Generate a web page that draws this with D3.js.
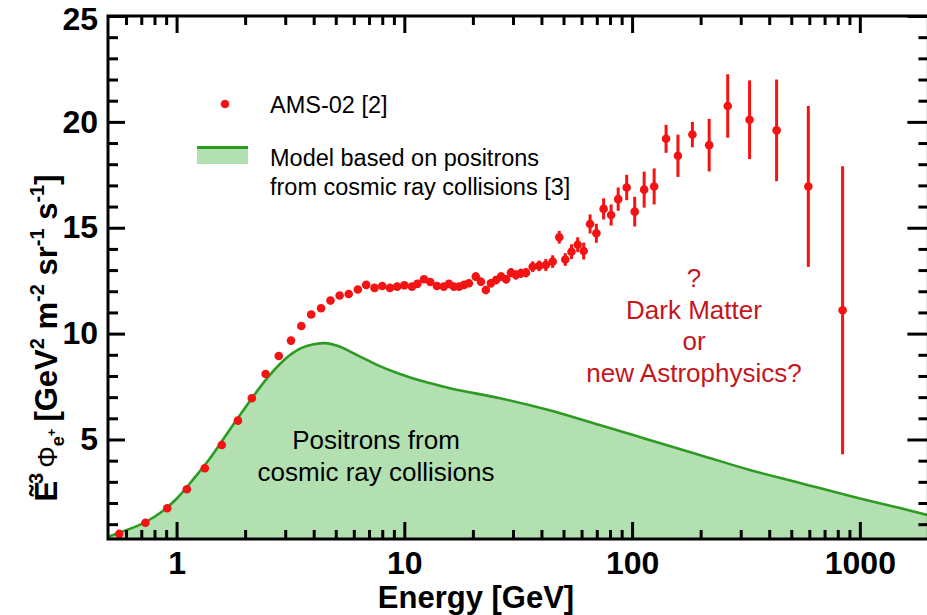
<!DOCTYPE html>
<html><head><meta charset="utf-8">
<script src="https://cdn.jsdelivr.net/npm/d3@7"></script>
<style>
html,body{margin:0;padding:0;background:#fff;}
svg{display:block;}
text{font-family:"Liberation Sans",Arial,Helvetica,sans-serif;}
</style></head>
<body>
<svg id="chart" width="927" height="615"></svg>
<script>
// ---- data ----
const amsEnergy = [0.56,0.73,0.91,1.11,1.33,1.58,1.86,2.14,2.46,2.81,3.18,3.53,3.9,4.31,4.74,5.2,5.7,6.25,6.8,7.4,8.0,8.65,9.3,10.0,10.8,11.4,12.2,13.0,13.9,14.9,15.7,16.5,17.4,18.3,19.2,20.6,21.7,22.8,24.0,25.3,26.6,28,29.4,30.9,32.5,34.2,36.6,39.1,41.8,44.8,47.9,50.9,54.2,57.7,61.3,65.4,69.7,75.0,80.9,86.9,94.7,102.7,113,125,141,159,184,218,263,328,431,594,840];
const amsFlux = [0.54,1.07,1.75,2.65,3.64,4.74,5.89,6.95,8.09,8.94,9.67,10.36,10.9,11.2,11.56,11.8,11.87,12.08,12.3,12.16,12.25,12.16,12.22,12.28,12.22,12.35,12.57,12.44,12.25,12.22,12.35,12.22,12.22,12.3,12.38,12.69,12.45,12.06,12.38,12.53,12.69,12.57,12.88,12.77,12.85,12.88,13.16,13.2,13.24,13.4,14.55,13.5,13.87,14.2,13.9,15.18,14.74,15.89,15.6,16.35,16.9,15.76,16.8,16.95,19.2,18.4,19.4,18.9,20.75,20.1,19.6,16.95,11.1];
const amsError = [0,0,0,0,0,0,0,0,0,0,0,0,0,0,0,0,0.05,0.05,0.05,0.12,0.12,0.12,0.12,0.12,0.12,0.12,0.12,0.12,0.12,0.12,0.12,0.12,0.12,0.15,0.15,0.2,0.2,0.2,0.2,0.2,0.2,0.2,0.22,0.22,0.22,0.22,0.25,0.25,0.28,0.3,0.3,0.3,0.35,0.35,0.4,0.45,0.45,0.5,0.5,0.55,0.6,0.7,0.85,0.85,0.66,1.0,0.6,1.24,1.5,1.86,2.4,3.8,6.8];

const modelEnergy = [0.5,0.56,0.7,0.8,0.9,1.0,1.2,1.4,1.6,1.8,2.0,2.5,3.0,3.5,4.0,4.5,5.0,6.3,7.5,9.5,15.7,26,43,72,119,198,329,546,906,1500,2000];
const modelFlux = [0.4,0.6,1.0,1.35,1.75,2.2,3.2,4.1,5.0,5.8,6.5,7.9,8.8,9.3,9.5,9.55,9.45,8.95,8.55,8.1,7.43,6.96,6.39,5.68,4.98,4.27,3.56,2.95,2.33,1.76,1.42];

const xMajorTicks = [1,10,100,1000];
const xTickLabels = ["1","10","100","1000"];
const xMinorTicks = [0.6,0.7,0.8,0.9,2,3,4,5,6,7,8,9,20,30,40,50,60,70,80,90,200,300,400,500,600,700,800,900];
const yMajorTicks = [5,10,15,20,25];
const yTickLabels = ["5","10","15","20","25"];
const yMinorTicks = [1,2,3,4,6,7,8,9,11,12,13,14,16,17,18,19,21,22,23,24];

const legendLabels = ["AMS-02 [2]", "Model based on positrons", "from cosmic ray collisions [3]"];
const innerLabel = ["Positrons from", "cosmic ray collisions"];
const questionLabel = ["?", "Dark Matter", "or", "new Astrophysics?"];

// ---- layout ----
const svg = d3.select("#chart");
const L = 108, R = 928.4, T = 16, B = 539;
const x = d3.scaleLog().domain([0.5, 2000]).range([L, R]);
const y = d3.scaleLinear().domain([0.3, 25]).range([B, T]);

const red = "#f41313", green = "#2d9a23", fillGreen = "#b3e0b1", darkRed = "#c4161c";

svg.append("defs").append("clipPath").attr("id","clip")
  .append("rect").attr("x",L).attr("y",T).attr("width",R-L).attr("height",B-T);

const plot = svg.append("g").attr("clip-path","url(#clip)");

// model area
const pts = modelEnergy.map((e,i)=>[e, modelFlux[i]]);
plot.append("path").datum(pts)
  .attr("fill", fillGreen)
  .attr("d", d3.area().x(d=>x(d[0])).y0(B).y1(d=>y(d[1])).curve(d3.curveMonotoneX));
plot.append("path").datum(pts)
  .attr("fill","none").attr("stroke",green).attr("stroke-width",2.6)
  .attr("d", d3.line().x(d=>x(d[0])).y(d=>y(d[1])).curve(d3.curveMonotoneX));

// AMS points
const ams = amsEnergy.map((e,i)=>({e, v:amsFlux[i], err:amsError[i]}));
plot.append("g").selectAll("line").data(ams.filter(d=>d.err>0)).join("line")
  .attr("x1",d=>x(d.e)).attr("x2",d=>x(d.e))
  .attr("y1",d=>y(d.v-d.err)).attr("y2",d=>y(d.v+d.err))
  .attr("stroke",red).attr("stroke-width",3);
plot.append("g").selectAll("circle").data(ams).join("circle")
  .attr("cx",d=>x(d.e)).attr("cy",d=>y(d.v)).attr("r",4.3).attr("fill",red);

// axes
const tickFont = g => g.selectAll("text").attr("font-size",32).attr("font-weight","bold").attr("fill","#000").style("font-family","'Liberation Sans',Arial,sans-serif");
const clean = g => { g.select(".domain").remove(); g.selectAll("line").attr("stroke","#000").attr("stroke-width",3); };

// bottom
svg.append("g").attr("transform",`translate(0,${B})`)
  .call(d3.axisBottom(x).tickValues(xMinorTicks).tickSize(-9).tickFormat(""))
  .call(clean);
svg.append("g").attr("transform",`translate(0,${B})`)
  .call(d3.axisBottom(x).tickValues(xMajorTicks).tickSize(-17).tickPadding(12)
    .tickFormat((d,i)=>xTickLabels[i]))
  .call(clean).call(tickFont);
// top
svg.append("g").attr("transform",`translate(0,${T})`)
  .call(d3.axisTop(x).tickValues(xMinorTicks).tickSize(-9).tickFormat("")).call(clean);
svg.append("g").attr("transform",`translate(0,${T})`)
  .call(d3.axisTop(x).tickValues(xMajorTicks).tickSize(-17).tickFormat("")).call(clean);
// left
svg.append("g").attr("transform",`translate(${L},0)`)
  .call(d3.axisLeft(y).tickValues(yMinorTicks).tickSize(-10).tickFormat("")).call(clean);
const yl = svg.append("g").attr("transform",`translate(${L},0)`)
  .call(d3.axisLeft(y).tickValues(yMajorTicks).tickSize(-17).tickPadding(10)
    .tickFormat((d,i)=>yTickLabels[i]))
  .call(clean).call(tickFont);
yl.selectAll(".tick text").filter(d=>d===25).attr("dy","0.42em");
// right
svg.append("g").attr("transform",`translate(${R},0)`)
  .call(d3.axisRight(y).tickValues(yMinorTicks).tickSize(-10).tickFormat("")).call(clean);
svg.append("g").attr("transform",`translate(${R},0)`)
  .call(d3.axisRight(y).tickValues(yMajorTicks).tickSize(-21).tickFormat("")).call(clean);

// frame
svg.append("rect").attr("x",L).attr("y",T).attr("width",R-L).attr("height",B-T)
  .attr("fill","none").attr("stroke","#000").attr("stroke-width",3);

// x axis title
svg.append("text").attr("x",476).attr("y",608).attr("text-anchor","middle")
  .attr("font-size",31).attr("font-weight","bold").text("Energy [GeV]");

// y axis title
const yt = svg.append("text").attr("transform","translate(57,338) rotate(-90)")
  .attr("text-anchor","middle").attr("font-size",31).attr("font-weight","bold");
yt.append("tspan").text("Ẽ");
yt.append("tspan").attr("font-size",20).attr("dy",-14).attr("dx",-3).text("3");
yt.append("tspan").attr("font-size",27).attr("font-weight","normal").attr("dy",14).attr("dx",5).text("Φ");
yt.append("tspan").attr("font-size",18).attr("dy",7).text("e");
yt.append("tspan").attr("font-size",13).attr("dy",-8).text("+");
yt.append("tspan").attr("dy",1).attr("dx",7).text("[GeV");
yt.append("tspan").attr("font-size",20).attr("dy",-13).text("2");
yt.append("tspan").attr("dy",13).text(" m");
yt.append("tspan").attr("font-size",20).attr("dy",-13).text("-2");
yt.append("tspan").attr("dy",13).text(" sr");
yt.append("tspan").attr("font-size",20).attr("dy",-13).text("-1");
yt.append("tspan").attr("dy",13).text(" s");
yt.append("tspan").attr("font-size",20).attr("dy",-13).text("-1");
yt.append("tspan").attr("dy",13).text("]");

// legend
svg.append("circle").attr("cx",225).attr("cy",104).attr("r",4.3).attr("fill",red);
svg.append("text").attr("x",270).attr("y",113).attr("font-size",23.5).text(legendLabels[0]);
svg.append("rect").attr("x",197).attr("y",146).attr("width",51).attr("height",18).attr("fill",fillGreen);
svg.append("line").attr("x1",197).attr("x2",248).attr("y1",147.5).attr("y2",147.5).attr("stroke",green).attr("stroke-width",3);
svg.append("text").attr("x",270).attr("y",166).attr("font-size",23.5).text(legendLabels[1]);
svg.append("text").attr("x",270).attr("y",195).attr("font-size",23.5).text(legendLabels[2]);

// inner labels
innerLabel.forEach((t,i)=>svg.append("text").attr("x",376).attr("y",449+i*32)
  .attr("text-anchor","middle").attr("font-size",26).text(t));
questionLabel.forEach((t,i)=>svg.append("text").attr("x",694).attr("y",287+i*31.5)
  .attr("text-anchor","middle").attr("font-size",26).attr("fill",darkRed).text(t));
</script>
</body></html>
